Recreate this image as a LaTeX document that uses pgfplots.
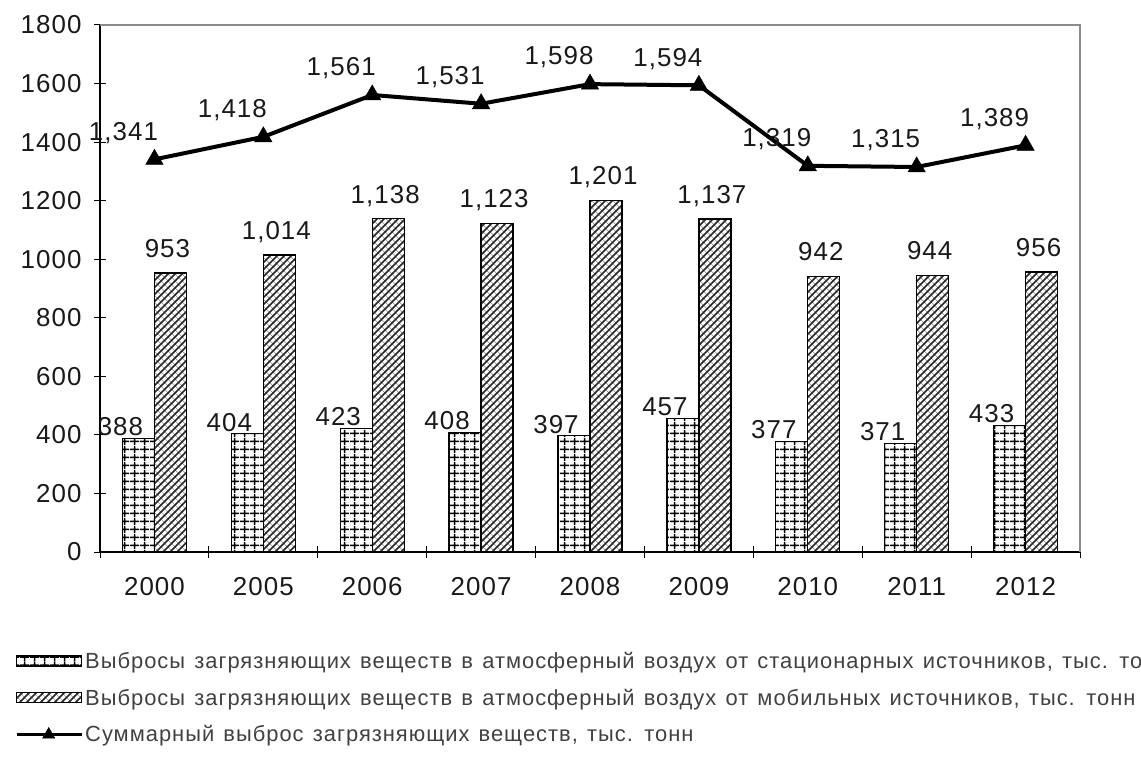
\documentclass[border=0pt]{standalone}
\usepackage{fontspec}
\setmainfont{Liberation Sans}
\newfontfamily\legfont[LetterSpace=4.5, WordSpace=1.3]{Liberation Sans}
\newfontfamily\numfont[LetterSpace=4]{Liberation Sans}
\usepackage{pgfplots}
\pgfplotsset{compat=1.18}
\usetikzlibrary{patterns}

% grid fill for stationary sources
\pgfdeclarepatternformonly{stgrid}{\pgfpointorigin}{\pgfqpoint{10bp}{8bp}}{\pgfqpoint{10bp}{8bp}}{%
  \pgfsetlinewidth{1.6bp}%
  \pgfpathmoveto{\pgfqpoint{5bp}{0bp}}\pgfpathlineto{\pgfqpoint{5bp}{8bp}}%
  \pgfpathmoveto{\pgfqpoint{0bp}{4bp}}\pgfpathlineto{\pgfqpoint{10bp}{4bp}}%
  \pgfusepath{stroke}}

% diagonal weave for mobile sources
\pgfdeclarepatterninherentlycolored{mobhatch}{\pgfqpoint{-1bp}{-1bp}}{\pgfqpoint{8bp}{8bp}}{\pgfqpoint{7bp}{7bp}}{%
  \pgfsetlinewidth{0.7bp}\pgfsetstrokecolor{black!40}%
  \pgfpathmoveto{\pgfqpoint{-0.5bp}{7.5bp}}\pgfpathlineto{\pgfqpoint{7.5bp}{-0.5bp}}%
  \pgfusepath{stroke}%
  \pgfsetlinewidth{1.5bp}\pgfsetstrokecolor{black!85}%
  \pgfpathmoveto{\pgfqpoint{-0.5bp}{-0.5bp}}\pgfpathlineto{\pgfqpoint{7.5bp}{7.5bp}}%
  \pgfusepath{stroke}}

\pgfplotsset{
  barleg/.style={legend image code/.code={\draw[##1] (0bp,-5bp) rectangle (65bp,5bp);}},
  lineleg/.style={legend image code/.code={\draw[mark repeat=2, mark phase=2, ##1, line width=3bp, mark size=7bp]
    plot coordinates {(0bp,0bp) (32bp,0bp) (65bp,0bp)};}},
  lbl/.style={every node near coord/.append style={anchor=south, inner sep=0pt, text depth=0pt,
    font=\numfont\fontsize{26}{30}\selectfont, text=black!90, #1}},
}

\pgfplotstableread{
x stat mob total
0 388 953 1341
1 404 1014 1418
2 423 1138 1561
3 408 1123 1531
4 397 1201 1598
5 457 1137 1594
6 377 942 1319
7 371 944 1315
8 433 956 1389
}\emis

\begin{document}
\begin{tikzpicture}
\useasboundingbox (0,0) rectangle (1141bp,757bp);
\clip (0,0) rectangle (1141bp,757bp);
\begin{axis}[
  at={(100bp,205bp)}, anchor=south west,
  scale only axis, width=980bp, height=527bp,
  xmin=-0.5, xmax=8.5, ymin=0, ymax=1800,
  ytick={0,200,...,1800},
  xtick={0,...,8},
  xticklabels={2000,2005,2006,2007,2008,2009,2010,2011,2012},
  minor xtick={-0.5,0.5,...,8.5},
  major x tick style={draw=none},
  tick align=center, major tick length=12bp, minor tick length=12bp,
  tick style={black, line width=1bp},
  axis x line*=bottom, axis y line*=left,
  axis line style={black, line width=1.2bp, -},
  /pgf/number format/assume math mode=true,
  /pgf/number format/1000 sep={},
  ticklabel style={font=\numfont\fontsize{26}{30}\selectfont, text=black!90},
  yticklabel style={xshift=-9bp},
  xticklabel style={yshift=-16bp},
  clip=false,
  legend style={at={(-0.0867,-0.186)}, anchor=north west, draw=none, fill=none,
    font=\legfont\fontsize{22}{26}\selectfont, text=black!75, row sep=15bp, inner sep=0pt},
  legend cell align=left,
]
\draw[black!45, line width=1.5bp] (rel axis cs:0,1) -- (rel axis cs:1,1) -- (rel axis cs:1,0);

\addplot[ybar, bar width=32bp, bar shift=-16bp, draw=black, line width=1.3bp,
  pattern=stgrid, pattern color=black, barleg,
  nodes near coords={\pgfmathprintnumber[1000 sep={,}]{\pgfplotspointmeta}},
  lbl={xshift=-34bp, yshift=2bp}]
  table[x=x, y=stat] {\emis};
\addlegendentry{Выбросы загрязняющих веществ в атмосферный воздух от стационарных источников, тыс. тонн}

\addplot[ybar, bar width=32bp, bar shift=16bp, draw=black, line width=1.3bp,
  pattern=mobhatch, barleg,
  nodes near coords={\pgfmathprintnumber[1000 sep={,}]{\pgfplotspointmeta}},
  lbl={xshift=13bp, yshift=15bp}]
  table[x=x, y=mob] {\emis};
\addlegendentry{Выбросы загрязняющих веществ в атмосферный воздух от мобильных источников, тыс. тонн}

\addplot[black, line width=4bp, mark=triangle*, mark size=10bp, mark options={solid, line width=0.5bp},
  lineleg,
  nodes near coords={\pgfmathprintnumber[1000 sep={,}]{\pgfplotspointmeta}},
  lbl={xshift=-31bp, yshift=19bp}]
  table[x=x, y=total] {\emis};
\addlegendentry{Суммарный выброс загрязняющих веществ, тыс. тонн}
\end{axis}
\end{tikzpicture}
\end{document}
